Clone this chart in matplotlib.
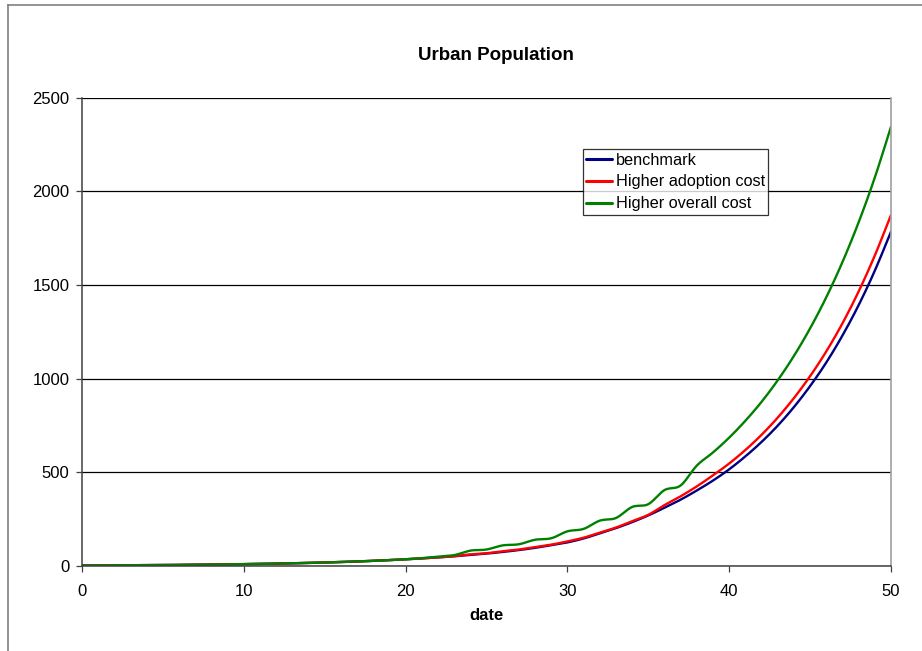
import numpy as np
import matplotlib
matplotlib.use("Agg")
import matplotlib.pyplot as plt
from matplotlib.lines import Line2D

plt.rcParams['font.family'] = ['Liberation Sans', 'DejaVu Sans']

# Urban population by date for three cost scenarios
dates = list(range(0, 51))

benchmark = [2.7, 3.1, 3.5, 4.0, 4.5, 5.1, 5.8, 6.6, 7.5, 8.6,
             9.8, 11.1, 12.7, 14.4, 16.4, 18.7, 21.3, 24.2, 27.6, 31.4,
             35.7, 40.5, 46, 52, 59, 66, 75, 85, 97, 111,
             126, 147, 174, 202, 234, 270, 311, 354, 403, 456,
             516, 585, 662, 749, 848, 960, 1086, 1230, 1392, 1576,
             1784]

higher_adoption = [2.7, 3.1, 3.5, 4.0, 4.5, 5.1, 5.8, 6.6, 7.5, 8.6,
                   9.8, 11.1, 12.7, 14.4, 16.4, 18.7, 21.3, 24.2, 27.6, 31.4,
                   35.7, 40.5, 46, 52, 62, 68, 79, 88, 101, 114,
                   131, 151, 178, 205, 239, 273, 325, 372, 425, 484,
                   547, 619, 700, 792, 896, 1013, 1145, 1295, 1465, 1657,
                   1873]

higher_overall = [2.7, 3.1, 3.5, 4.0, 4.5, 5.1, 5.8, 6.6, 7.5, 8.6,
                  9.8, 11.1, 12.7, 14.4, 16.4, 18.7, 21.3, 24.2, 27.6, 31.4,
                  36, 42, 50, 58, 82, 88, 110, 116, 140, 148,
                  185, 198, 242, 256, 315, 330, 405, 430, 536, 606,
                  685, 775, 876, 991, 1121, 1268, 1434, 1622, 1834, 2073,
                  2344]

series_names = ["benchmark", "Higher adoption cost", "Higher overall cost"]
series_colors = ["#000080", "#FF0000", "#008000"]

x_ticks = [0, 10, 20, 30, 40, 50]
y_ticks = [0, 500, 1000, 1500, 2000, 2500]


def smooth(x, y, n=12):
    """Catmull-Rom curve through the points, like a smoothed spreadsheet line."""
    x = np.asarray(x, float)
    y = np.asarray(y, float)
    px = np.concatenate([[2 * x[0] - x[1]], x, [2 * x[-1] - x[-2]]])
    py = np.concatenate([[2 * y[0] - y[1]], y, [2 * y[-1] - y[-2]]])
    xs, ys = [], []
    t = np.linspace(0, 1, n, endpoint=False)
    for i in range(1, len(px) - 2):
        p0x, p1x, p2x, p3x = px[i - 1:i + 3]
        p0y, p1y, p2y, p3y = py[i - 1:i + 3]
        t2, t3 = t * t, t * t * t
        xs.append(0.5 * (2 * p1x + (-p0x + p2x) * t + (2 * p0x - 5 * p1x + 4 * p2x - p3x) * t2
                         + (-p0x + 3 * p1x - 3 * p2x + p3x) * t3))
        ys.append(0.5 * (2 * p1y + (-p0y + p2y) * t + (2 * p0y - 5 * p1y + 4 * p2y - p3y) * t2
                         + (-p0y + 3 * p1y - 3 * p2y + p3y) * t3))
    xs.append([x[-1]])
    ys.append([y[-1]])
    return np.concatenate(xs), np.concatenate(ys)


W, H = 922, 651
fig = plt.figure(figsize=(W / 100, H / 100), dpi=100)
fig.patch.set_facecolor("white")

# chart area frame (left and top edges)
fig.add_artist(Line2D([7.5 / W, 7.5 / W], [0, 1 - 4.5 / H], color="#808080", lw=1.2))
fig.add_artist(Line2D([7.5 / W, 1], [1 - 4.5 / H, 1 - 4.5 / H], color="#808080", lw=1.2))

ax_l, ax_r, ax_t, ax_b = 82, 891, 97.5, 566
ax = fig.add_axes([ax_l / W, 1 - ax_b / H, (ax_r - ax_l) / W, (ax_b - ax_t) / H])

for name, color, vals in zip(series_names, series_colors,
                             [benchmark, higher_adoption, higher_overall]):
    sx, sy = smooth(dates, vals)
    ax.plot(sx, sy, color=color, lw=1.7, label=name, solid_capstyle="round")

ax.set_xlim(0, 50)
ax.set_ylim(0, 2500)
ax.set_xticks(x_ticks)
ax.set_yticks(y_ticks)
ax.set_xticklabels([str(v) for v in x_ticks])
ax.set_yticklabels([str(v) for v in y_ticks])
ax.tick_params(axis="both", direction="out", length=4, width=0.9, color="#404040",
               labelsize=12)
ax.tick_params(axis="x", pad=9)
ax.tick_params(axis="y", pad=5)

ax.grid(axis="y", color="#000000", lw=0.9)
ax.set_axisbelow(True)
for side in ["left", "bottom"]:
    ax.spines[side].set_color("#404040")
    ax.spines[side].set_linewidth(1.1)
ax.spines["right"].set_color("#A0A0A0")
ax.spines["right"].set_linewidth(1.2)
ax.spines["top"].set_visible(False)

leg = ax.legend(loc="upper left", bbox_to_anchor=(0.619, 0.890), borderaxespad=0,
                frameon=True, fancybox=False, shadow=False, fontsize=11.7,
                handlelength=1.55, handletextpad=0.25, borderpad=0.22,
                labelspacing=0.42)
leg.get_frame().set_edgecolor("black")
leg.get_frame().set_linewidth(0.9)
for h in leg.get_lines():
    h.set_linewidth(2.2)

fig.text(496 / W, 1 - 56 / H, "Urban Population", ha="center", va="center",
         fontsize=13.5, fontweight="bold")
fig.text((ax_l + ax_r) / 2 / W, 1 - 616 / H, "date", ha="center", va="center",
         fontsize=12, fontweight="bold")

fig.savefig("out.png", dpi=100, facecolor="white")
